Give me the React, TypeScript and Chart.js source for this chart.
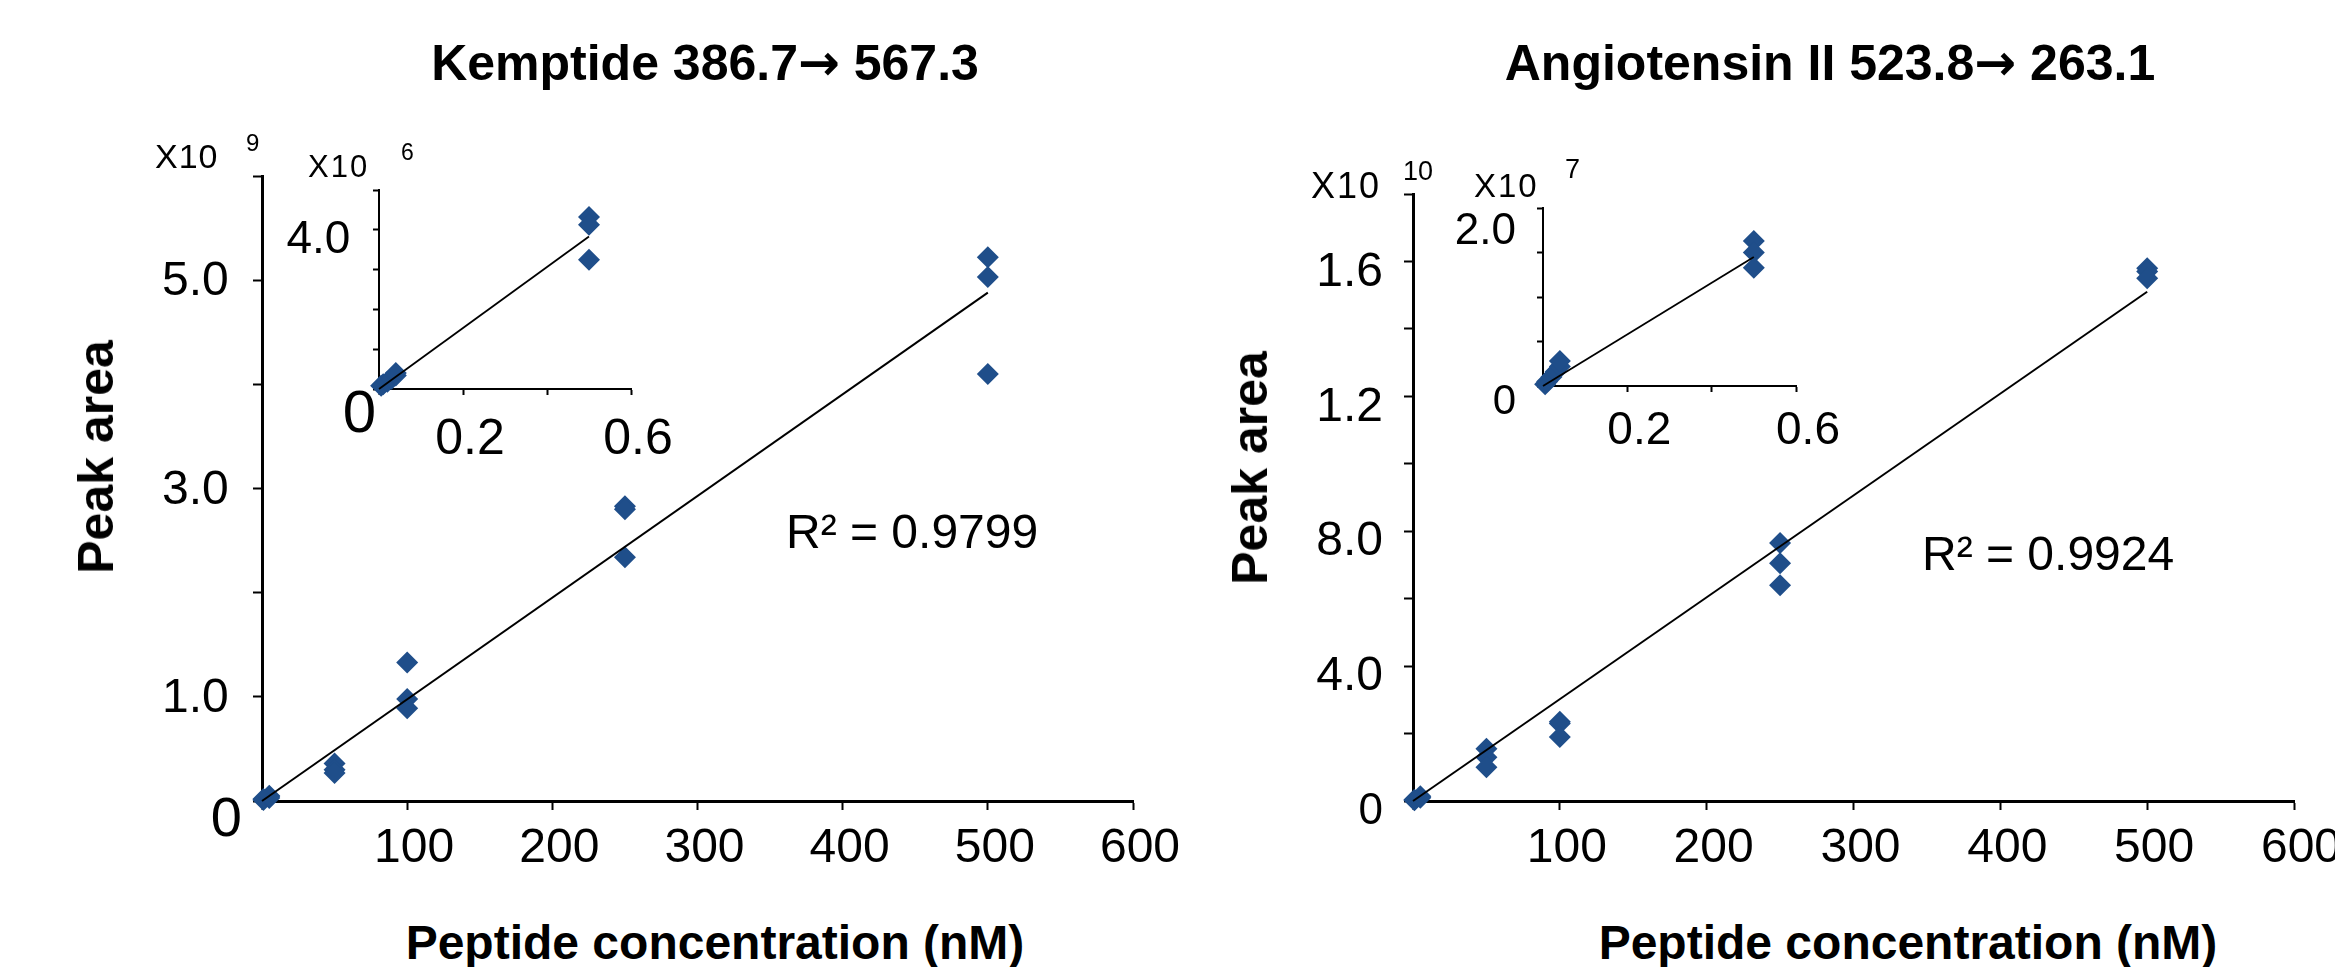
import React, { useEffect, useRef } from 'react';
import { Chart, registerables } from 'chart.js';

Chart.register(...registerables);

// ---------- data ----------
// Kemptide 386.7 -> 567.3, main plot (x: nM, y: x10^9)
const kemptideConc = [1, 1, 5, 5, 5, 50, 50, 50, 100, 100, 100, 250, 250, 250, 500, 500, 500];
const kemptideArea = [0.01, 0.02, 0.03, 0.04, 0.05, 0.36, 0.3, 0.27, 1.33, 0.98, 0.89, 2.83, 2.8, 2.34, 5.22, 5.03, 4.1];
const kemptideFitConc = [0, 500];
const kemptideFitArea = [0, 4.88];
// Kemptide inset (y: x10^6)
const kemptideInsetConc = [0.005, 0.01, 0.02, 0.03, 0.04, 0.04, 0.5, 0.5, 0.5];
const kemptideInsetArea = [0.08, 0.12, 0.18, 0.26, 0.34, 0.4, 4.32, 4.13, 3.25];
const kemptideInsetFitConc = [0, 0.5];
const kemptideInsetFitArea = [0, 3.83];

// Angiotensin II 523.8 -> 263.1, main plot (y: x10^10)
const angioConc = [1, 1, 5, 5, 50, 50, 50, 100, 100, 100, 250, 250, 250, 500, 500, 500];
const angioArea = [0.002, 0.004, 0.01, 0.014, 0.155, 0.13, 0.1, 0.235, 0.23, 0.19, 0.765, 0.705, 0.64, 1.58, 1.57, 1.55];
const angioFitConc = [0, 500];
const angioFitArea = [0, 1.51];
// Angiotensin inset (y: x10^7)
const angioInsetConc = [0.005, 0.01, 0.02, 0.03, 0.04, 0.04, 0.5, 0.5, 0.5];
const angioInsetArea = [0.02, 0.05, 0.1, 0.16, 0.22, 0.28, 1.63, 1.5, 1.33];
const angioInsetFitConc = [0, 0.5];
const angioInsetFitArea = [0, 1.45];

// tick labels (one per tick, from min to max)
const mainXTickLabels = ['', '100', '200', '300', '400', '500', '600'];
const kemptideYTickLabels = ['0', '1.0 ', '', '3.0 ', '', '5.0 ', ''];
const kemptideInsetYTickLabels = ['0', '', '', '', '4.0  ', ''];
const insetXTickLabels = ['', '0.2', '', '0.6'];
const angioYTickLabels = ['0', '', '4.0', '', '8.0', '', '1.2', '', '1.6', ''];
const angioInsetYTickLabels = ['0', '', '', '', '2.0'];

// texts
const ARROW = '\u2192';
const titleLeftA = 'Kemptide 386.7';
const titleLeftB = ' 567.3';
const titleRightA = 'Angiotensin II 523.8';
const titleRightB = ' 263.1';
const yTitle = 'Peak area';
const xTitle = 'Peptide concentration (nM)';
const r2Left = 'R\u00B2 = 0.9799';
const r2Right = 'R\u00B2 = 0.9924';
const expBase = 'X10';
const expLeftMain = '9';
const expLeftInset = '6';
const expRightMain = '10';
const expRightInset = '7';

const FONT = '"Liberation Sans", Arial, sans-serif';
const MARKER = '#1f4e8a';

type Spec = {
  geo: { L: number; T: number; R: number; B: number; yW: number; xH: number; pt: number; pr: number };
  xs: number[]; ys: number[]; fx: number[]; fy: number[];
  xMin: number; xMax: number; xStep: number; xLabels: string[];
  yMin: number; yMax: number; yStep: number; yLabels: string[];
  yShift: number[]; yFontSizes: number[];
  xFont: number; yFont: number;
  xPad: number; yPad: number; xLabelOffset: number; yLabelOffset: number;
  tickLen: number; tickW: number; borderW: number; fitW: number;
};

function Panel({ spec }: { spec: Spec }) {
  const ref = useRef<HTMLCanvasElement>(null);
  const g = spec.geo;
  const left = g.L - g.yW;
  const top = g.T - g.pt;
  const width = g.R + g.pr - left;
  const height = g.B + g.xH - top;

  useEffect(() => {
    const canvas = ref.current as HTMLCanvasElement;
    const pts = spec.xs.map((x, i) => ({ x, y: spec.ys[i] }));
    const fit = spec.fx.map((x, i) => ({ x, y: spec.fy[i] }));
    const yIdx = (v: number) => Math.round((v - spec.yMin) / spec.yStep);
    const xIdx = (v: number) => Math.round((v - spec.xMin) / spec.xStep);
    const chart = new Chart(canvas, {
      type: 'scatter',
      data: {
        datasets: [
          {
            type: 'line',
            data: fit,
            borderColor: '#000',
            borderWidth: spec.fitW,
            pointRadius: 0,
            fill: false,
            showLine: true,
            tension: 0,
            clip: false,
            order: 0,
          } as any,
          {
            type: 'scatter',
            data: pts,
            pointStyle: 'rectRot',
            pointRadius: 11,
            pointHoverRadius: 11,
            backgroundColor: MARKER,
            borderColor: MARKER,
            borderWidth: 0,
            clip: false,
            order: 1,
          } as any,
        ],
      },
      options: {
        responsive: false,
        animation: false,
        devicePixelRatio: 1,
        events: [],
        layout: { padding: { left: 0, top: g.pt, right: g.pr, bottom: 0 } },
        plugins: { legend: { display: false }, tooltip: { enabled: false }, title: { display: false } },
        scales: {
          x: {
            type: 'linear',
            min: spec.xMin,
            max: spec.xMax,
            afterFit: (s: any) => { s.height = g.xH; },
            border: { display: true, color: '#000', width: spec.borderW },
            grid: { display: true, drawOnChartArea: false, drawTicks: true, tickLength: spec.tickLen, tickWidth: spec.tickW, tickColor: '#000' },
            ticks: {
              stepSize: spec.xStep,
              autoSkip: false,
              maxRotation: 0,
              minRotation: 0,
              color: '#000',
              padding: spec.xPad,
              labelOffset: spec.xLabelOffset,
              font: { family: FONT, size: spec.xFont },
              callback: (v: any) => spec.xLabels[xIdx(Number(v))] ?? '',
            },
          },
          y: {
            type: 'linear',
            min: spec.yMin,
            max: spec.yMax,
            afterFit: (s: any) => { s.width = g.yW; },
            border: { display: true, color: '#000', width: spec.borderW },
            grid: { display: true, drawOnChartArea: false, drawTicks: true, tickLength: spec.tickLen, tickWidth: spec.tickW, tickColor: '#000' },
            ticks: {
              stepSize: spec.yStep,
              autoSkip: false,
              color: '#000',
              padding: spec.yPad,
              labelOffset: spec.yLabelOffset,
              font: (ctx: any) => {
                const i = ctx.index;
                const sh = spec.yShift[i] || 0;
                return { family: FONT, size: spec.yFontSizes[i] || spec.yFont, lineHeight: sh ? `${2 * sh}px` : 1.2 };
              },
              callback: (v: any) => {
                const i = yIdx(Number(v));
                const lab = spec.yLabels[i] ?? '';
                return spec.yShift[i] ? ['', lab] : lab;
              },
            },
          },
        },
      } as any,
    });
    return () => chart.destroy();
  }, []);

  return (
    <canvas
      ref={ref}
      width={width}
      height={height}
      style={{ position: 'absolute', left, top, width, height }}
    />
  );
}

const leftMain: Spec = {
  geo: { L: 262, T: 176, R: 1133, B: 801, yW: 210, xH: 100, pt: 60, pr: 70 },
  xs: kemptideConc, ys: kemptideArea, fx: kemptideFitConc, fy: kemptideFitArea,
  xMin: 0, xMax: 600, xStep: 100, xLabels: mainXTickLabels,
  yMin: 0, yMax: 6, yStep: 1, yLabels: kemptideYTickLabels,
  yShift: [18], yFontSizes: [56],
  xFont: 48, yFont: 48, xPad: 10, yPad: 11, xLabelOffset: 7, yLabelOffset: 2,
  tickLen: 9, tickW: 2, borderW: 3, fitW: 2,
};

const leftInset: Spec = {
  geo: { L: 379, T: 190, R: 631, B: 389, yW: 100, xH: 80, pt: 60, pr: 60 },
  xs: kemptideInsetConc, ys: kemptideInsetArea, fx: kemptideInsetFitConc, fy: kemptideInsetFitArea,
  xMin: 0, xMax: 0.6, xStep: 0.2, xLabels: insetXTickLabels,
  yMin: 0, yMax: 5, yStep: 1, yLabels: kemptideInsetYTickLabels,
  yShift: [15], yFontSizes: [60],
  xFont: 50, yFont: 46, xPad: 15, yPad: -3, xLabelOffset: 7, yLabelOffset: 11,
  tickLen: 6, tickW: 2, borderW: 2, fitW: 1.8,
};

const rightMain: Spec = {
  geo: { L: 1413, T: 194, R: 2294, B: 801, yW: 210, xH: 100, pt: 60, pr: 70 },
  xs: angioConc, ys: angioArea, fx: angioFitConc, fy: angioFitArea,
  xMin: 0, xMax: 600, xStep: 100, xLabels: mainXTickLabels,
  yMin: 0, yMax: 1.8, yStep: 0.2, yLabels: angioYTickLabels,
  yShift: [], yFontSizes: [44],
  xFont: 48, yFont: 48, xPad: 10, yPad: 21, xLabelOffset: 7, yLabelOffset: 11,
  tickLen: 9, tickW: 2, borderW: 3, fitW: 2,
};

const rightInset: Spec = {
  geo: { L: 1543, T: 208, R: 1796, B: 386, yW: 100, xH: 80, pt: 60, pr: 60 },
  xs: angioInsetConc, ys: angioInsetArea, fx: angioInsetFitConc, fy: angioInsetFitArea,
  xMin: 0, xMax: 0.6, xStep: 0.2, xLabels: insetXTickLabels,
  yMin: 0, yMax: 2, yStep: 0.5, yLabels: angioInsetYTickLabels,
  yShift: [0, 0, 0, 0, 8], yFontSizes: [42],
  xFont: 46, yFont: 44, xPad: 12, yPad: 21, xLabelOffset: 12, yLabelOffset: 16,
  tickLen: 6, tickW: 2, borderW: 2, fitW: 1.8,
};

function Txt(props: { x: number; base: number; size: number; bold?: boolean; center?: boolean; ls?: number; children: any }) {
  const { x, base, size, bold, center, ls, children } = props;
  const style: any = {
    position: 'absolute',
    left: x,
    top: base - 0.8465 * size,
    fontFamily: FONT,
    fontSize: size,
    lineHeight: `${size}px`,
    fontWeight: bold ? 700 : 400,
    whiteSpace: 'nowrap',
    color: '#000',
    letterSpacing: ls || 0,
  };
  if (center) style.transform = 'translateX(-50%)';
  return <div style={style}>{children}</div>;
}

function VTxt(props: { cx: number; cy: number; size: number; children: any }) {
  return (
    <div
      style={{
        position: 'absolute',
        left: props.cx,
        top: props.cy,
        transform: 'translate(-50%, -50%) rotate(-90deg)',
        fontFamily: FONT,
        fontWeight: 700,
        fontSize: props.size,
        lineHeight: `${props.size}px`,
        whiteSpace: 'nowrap',
        color: '#000',
      }}
    >
      {props.children}
    </div>
  );
}

const arrowStyle = { fontFamily: '"DejaVu Sans", sans-serif', fontWeight: 700 } as const;

export default function App() {
  return (
    <div style={{ position: 'absolute', left: 0, top: 0, width: 2335, height: 967, overflow: 'hidden', background: '#fff' }}>
      <Panel spec={leftMain} />
      <Panel spec={rightMain} />
      <Panel spec={leftInset} />
      <Panel spec={rightInset} />

      <Txt x={705} base={80} size={50} bold center>
        {titleLeftA}<span style={arrowStyle}>{ARROW}</span>{titleLeftB}
      </Txt>
      <Txt x={1830} base={80} size={50} bold center>
        {titleRightA}<span style={arrowStyle}>{ARROW}</span>{titleRightB}
      </Txt>

      <VTxt cx={96} cy={457} size={50}>{yTitle}</VTxt>
      <VTxt cx={1250} cy={468} size={50}>{yTitle}</VTxt>

      <Txt x={715} base={960} size={48} bold center>{xTitle}</Txt>
      <Txt x={1908} base={960} size={48} bold center>{xTitle}</Txt>

      <Txt x={786} base={549} size={48}>{r2Left}</Txt>
      <Txt x={1922} base={571} size={48}>{r2Right}</Txt>

      <Txt x={155} base={168} size={34} ls={1}>{expBase}</Txt>
      <Txt x={246} base={151} size={24}>{expLeftMain}</Txt>
      <Txt x={308} base={177} size={31} ls={2}>{expBase}</Txt>
      <Txt x={401} base={160} size={23}>{expLeftInset}</Txt>
      <Txt x={1311} base={198} size={36} ls={2}>{expBase}</Txt>
      <Txt x={1403} base={181} size={27}>{expRightMain}</Txt>
      <Txt x={1474} base={197} size={33} ls={2}>{expBase}</Txt>
      <Txt x={1565} base={179} size={27}>{expRightInset}</Txt>
    </div>
  );
}
